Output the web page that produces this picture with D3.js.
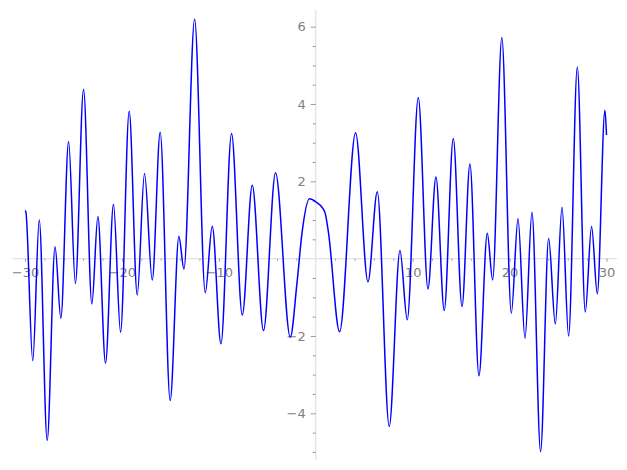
<!DOCTYPE html>
<html>
<head>
<meta charset="utf-8">
<style>
  body { margin: 0; background: #fff; }
  svg { display: block; }
  .tick text {
    font-family: "DejaVu Sans", sans-serif;
    font-size: 13px;
    fill: #808080;
  }
  .tick line { stroke: #999; }
  .axisline { stroke: #e3e3e3; stroke-width: 1.3; }
</style>
</head>
<body>
<script src="https://d3js.org/d3.v7.min.js"></script>
<script>

// curve points (local peaks, troughs, a few shape points)
var xs = [-30, -29.92, -29.2, -28.53, -27.71, -26.9, -26.3, -25.5, -24.8, -23.96,
          -23.1, -22.48, -21.69, -20.87, -20.14, -19.25, -18.42, -17.67, -16.87, -16.05,
          -15.02, -14.12, -13.6, -12.5, -11.4, -10.68, -9.78, -8.69, -7.58, -6.55,
          -5.39, -4.15, -2.63, -1.94, -1.42, -0.64, 0.12, 0.64, 0.98, 1.32, 2.46, 4.11,
          5.39, 6.35, 7.58, 8.69, 9.44, 10.58, 11.58, 12.4, 13.26, 14.19,
          15.09, 15.91, 16.84, 17.7, 18.25, 19.2, 20.18, 20.87, 21.59, 22.31,
          23.2, 24.03, 24.72, 25.41, 26.09, 26.99, 27.81, 28.46, 29.05, 29.84, 30];
var ys = [1.24, 1.22, -2.64, 1.0, -4.70, 0.31, -1.54, 3.03, -0.64, 4.38,
          -1.17, 1.09, -2.70, 1.41, -1.90, 3.81, -0.94, 2.20, -0.55, 3.27,
          -3.67, 0.57, -0.27, 6.19, -0.88, 0.84, -2.20, 3.24, -1.46, 1.90,
          -1.86, 2.22, -2.03, -0.64, 0.66, 1.55, 1.45, 1.33, 1.17, 0.66, -1.89, 3.26,
          -0.60, 1.73, -4.34, 0.21, -1.58, 4.17, -0.78, 2.11, -1.34, 3.11,
          -1.24, 2.45, -3.03, 0.66, -0.55, 5.72, -1.41, 1.03, -2.06, 1.20,
          -4.99, 0.52, -1.69, 1.33, -2.0, 4.96, -1.38, 0.83, -0.91, 3.84, 3.2];

var xMajor = [-30, -20, -10, 10, 20, 30];
var xMinor = d3.range(-30, 31, 2).filter(function(d) { return d % 10 != 0; });
var yMajor = [-4, -2, 2, 4, 6];
var yMinor = d3.range(-5, 6.5, 0.5).filter(function(d) { return d % 2 != 0; });

var width = 627, height = 470;

var svg = d3.select("body").append("svg")
    .attr("width", width)
    .attr("height", height);

var x = d3.scaleLinear().domain([-30, 30]).range([25, 606.5]);
var y = d3.scaleLinear().domain([-4, 6]).range([413.3, 26.7]);

function fmt(d) { return d < 0 ? "\u2212" + (-d) : d; }

// axis lines
svg.append("line").attr("class", "axisline")
    .attr("x1", 13).attr("x2", 617)
    .attr("y1", y(0)).attr("y2", y(0));
svg.append("line").attr("class", "axisline")
    .attr("x1", x(0)).attr("x2", x(0))
    .attr("y1", 10).attr("y2", 460);

// x ticks
var gx = svg.append("g").attr("transform", "translate(0," + y(0) + ")");
gx.append("g").call(d3.axisBottom(x).tickValues(xMajor).tickSize(3).tickPadding(6).tickFormat(fmt));
gx.append("g").call(d3.axisBottom(x).tickValues(xMinor).tickSize(2).tickFormat(""));

// y ticks
var gy = svg.append("g").attr("transform", "translate(" + x(0) + ",0)");
gy.append("g").call(d3.axisLeft(y).tickValues(yMajor).tickSize(5).tickPadding(5).tickFormat(fmt));
gy.append("g").call(d3.axisLeft(y).tickValues(yMinor).tickSize(3).tickFormat(""));

svg.selectAll(".domain").remove();

// curve
var pts = xs.map(function(d, i) { return [d, ys[i]]; });
var line = d3.line()
    .x(function(d) { return x(d[0]); })
    .y(function(d) { return y(d[1]); })
    .curve(d3.curveMonotoneX);

svg.append("path")
    .datum(pts)
    .attr("d", line)
    .attr("fill", "none")
    .attr("stroke", "#0000ff")
    .attr("stroke-width", 1.5);

</script>
</body>
</html>
